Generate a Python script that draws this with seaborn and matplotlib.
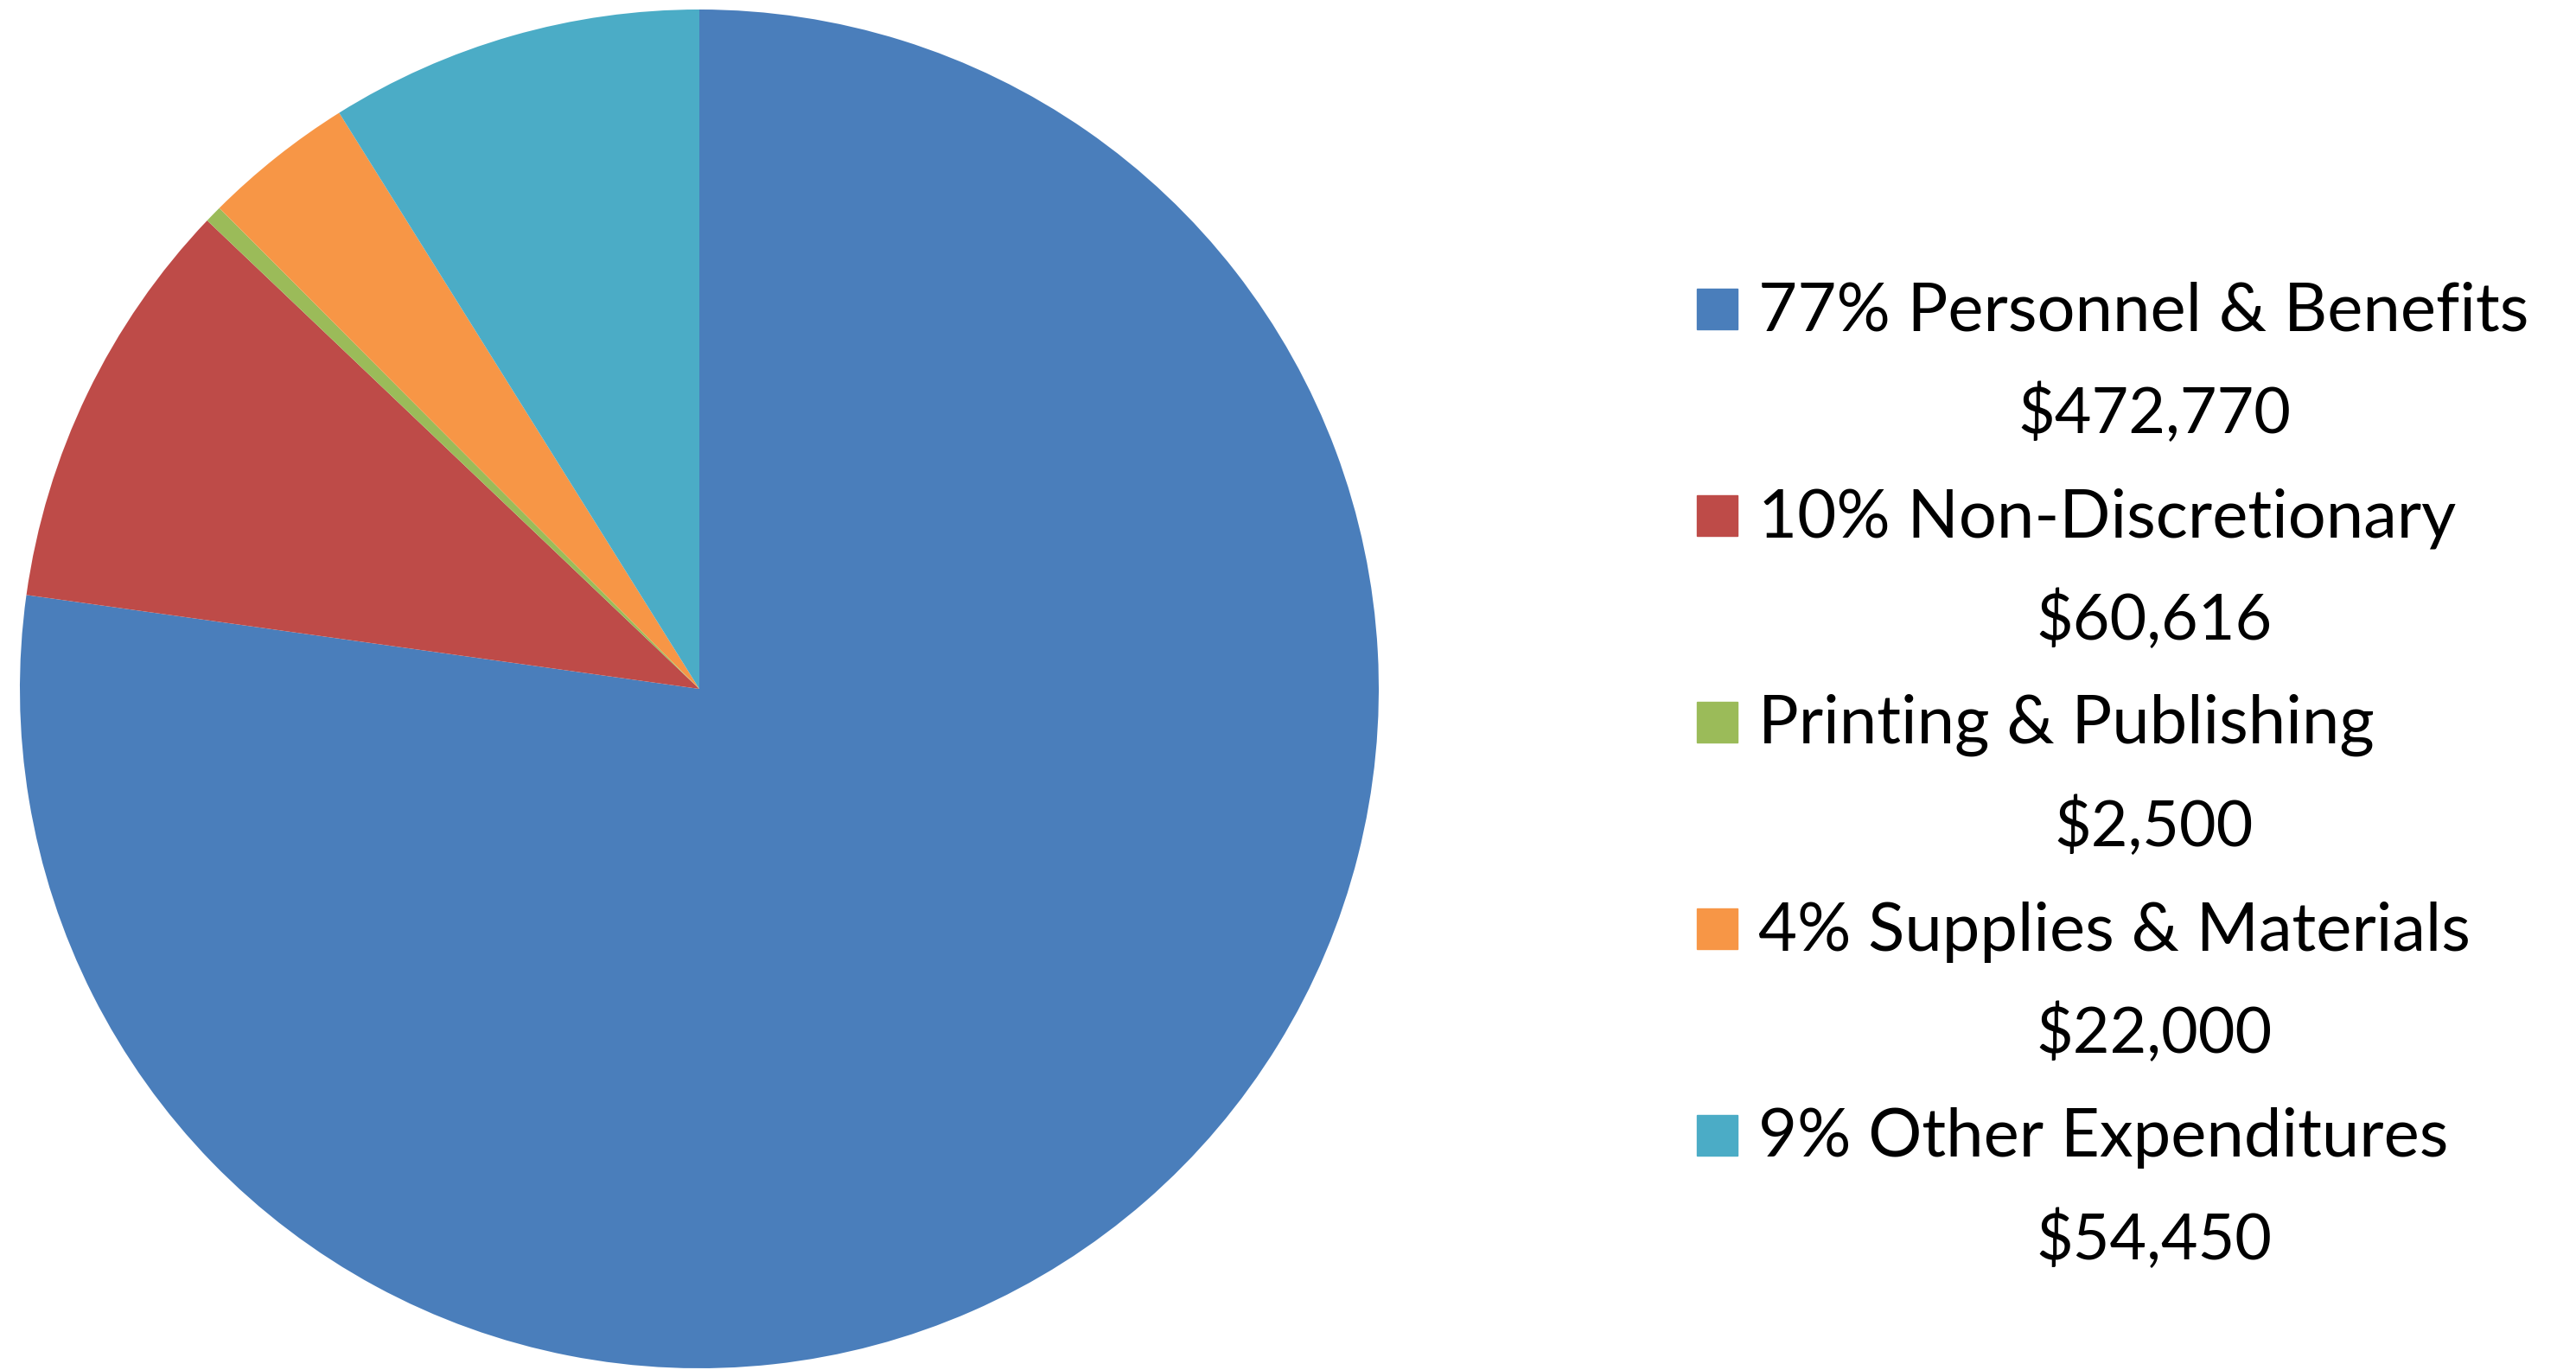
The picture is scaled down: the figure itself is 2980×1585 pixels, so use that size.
import matplotlib
matplotlib.use("Agg")
import matplotlib.pyplot as plt
from matplotlib.patches import Rectangle
import seaborn as sns

# Budget data
categories = ["Personnel & Benefits", "Non-Discretionary", "Printing & Publishing",
              "Supplies & Materials", "Other Expenditures"]
pct_labels = ["77%", "10%", "", "4%", "9%"]
amounts = [472770, 60616, 2500, 22000, 54450]
amount_labels = ["$472,770", "$60,616", "$2,500", "$22,000", "$54,450"]
colors = ["#4A7EBB", "#BE4B48", "#9BBB59", "#F79646", "#4BACC6"]

sns.set_style("white")
plt.rcParams["font.family"] = ["Lato", "DejaVu Sans"]

W, H = 2980, 1585
fig = plt.figure(figsize=(W / 100, H / 100), dpi=100)

# Pie area (center ~ (809, 797) px, radius ~ 786 px)
cx, cy, r = 809, 797, 786
ax = fig.add_axes([(cx - r) / W, (H - cy - r) / H, 2 * r / W, 2 * r / H])
ax.pie(amounts, colors=sns.color_palette(colors), startangle=90, counterclock=False,
       radius=1, wedgeprops=dict(linewidth=0))
ax.set_xlim(-1, 1)
ax.set_ylim(-1, 1)
ax.set_aspect("equal")
ax.axis("off")

# Legend drawn by hand: square + label, amount centred underneath
sq = 47
for i, (cat, pct, amt, col) in enumerate(zip(categories, pct_labels, amount_labels, colors)):
    y_lab = 357 + i * 239
    y_val = y_lab + 122
    fig.patches.append(Rectangle((1963 / W, (H - y_lab - sq / 2) / H), sq / W, sq / H,
                                 transform=fig.transFigure, color=col))
    label = f"{pct} {cat}" if pct else cat
    fig.text(2034 / W, (H - y_lab - 4) / H, label, ha="left", va="center",
             fontsize=56, color="black")
    fig.text(2492 / W, (H - y_val) / H, amt, ha="center", va="center",
             fontsize=53, color="black")

fig.savefig("out.png", dpi=100, facecolor="white")
